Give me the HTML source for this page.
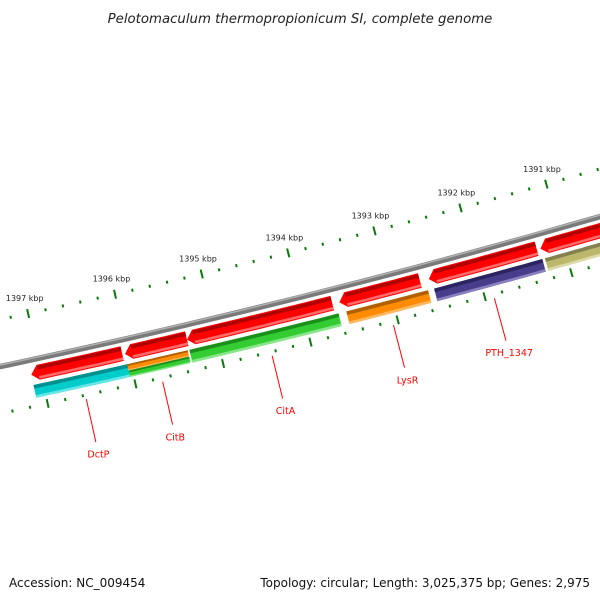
<!DOCTYPE html>
<html><head><meta charset="utf-8"><style>
html,body{margin:0;padding:0;background:#fff;}
svg{display:block;}
text{font-family:"DejaVu Sans","Liberation Sans",sans-serif;}
</style></head><body>
<svg id="map" width="600" height="600" viewBox="0 0 600 600" xmlns="http://www.w3.org/2000/svg">
<rect width="600" height="600" fill="#fff"/>
<text x="300" y="23" text-anchor="middle" font-size="13.3" font-style="italic" fill="#222">Pelotomaculum thermopropionicum SI, complete genome</text>
<g id="layer"></g>
<text x="9" y="587" font-size="12" fill="#111">Accession: NC_009454</text>
<text x="590" y="587" text-anchor="end" font-size="12" fill="#111">Topology: circular; Length: 3,025,375 bp; Genes: 2,975</text>
</svg>
<script>
// data
const kbpLabels = [1397, 1396, 1395, 1394, 1393, 1392, 1391];
const reverseStarts = [1397.11, 1396.04, 1395.33, 1393.58, 1392.55, 1391.26];
const reverseEnds   = [1396.07, 1395.33, 1393.66, 1392.65, 1391.30, 1390.40];
const forwardStarts = [1397.11, 1393.53, 1392.52, 1391.24, 1395.33];
const forwardEnds   = [1396.04, 1392.59, 1391.27, 1390.40, 1393.62];
const forwardColors = ['cyan', 'orange', 'purple', 'khaki', 'green'];
const splitStarts = [1396.04];
const splitEnds   = [1395.35];
const geneNames = ['DctP', 'CitB', 'CitA', 'LysR', 'PTH_1347'];
const geneCenters = [1396.57, 1395.70, 1394.45, 1393.06, 1391.90];

const NS = 'http://www.w3.org/2000/svg';
const layer = document.getElementById('layer');
const cx = -1803, cy = -8122, R0 = 8678;
const thA = Math.atan2(313 - cy, 28 - cx);
const thB = Math.atan2(183 - cy, 546 - cx);
function theta(k){ return thA + (1397 - k) * (thB - thA) / 6; }
function pt(k, off){ const t = theta(k), r = R0 + off; return [cx + r*Math.cos(t), cy + r*Math.sin(t)]; }
function arcPts(k1, k2, off){ const a = []; for (let i=0;i<=12;i++){ a.push(pt(k1 + (k2-k1)*i/12, off)); } return a; }
function band(k1, k2, r1, r2){ return arcPts(k1,k2,r1).concat(arcPts(k2,k1,r2)); }
function poly(points, fill){ const p = document.createElementNS(NS,'polygon'); p.setAttribute('points', points.map(q=>q[0].toFixed(1)+','+q[1].toFixed(1)).join(' ')); p.setAttribute('fill', fill); layer.appendChild(p); return p; }

const palette = {
  red:['#b00000','#ff0000','#ff6a6a'],
  cyan:['#009090','#00cccc','#66e6e6'],
  orange:['#b06000','#ff8c00','#ffb860'],
  green:['#1a901a','#33cc33','#88e688'],
  purple:['#2a2460','#483d8b','#8a80c0'],
  khaki:['#858050','#bdb76b','#dcd9a8']
};
function shadedBar(k1, k2, r1, r2, c, name, arrow){
  const g = document.createElementNS(NS,'g');
  
  
  layer.appendChild(g);
  const col = palette[c];
  const h = r2 - r1;
  const head = arrow ? 0.08 : 0;
  let pts;
  if (arrow){ pts = [pt(k1, (r1+r2)/2 + 1)].concat(arcPts(k1-head, k2, r1 - 1)).concat(arcPts(k2, k1-head, r2 + 1)); }
  else pts = band(k1, k2, r1, r2);
  g.appendChild(poly(pts, col[1]));
  g.appendChild(poly(band(k1-head, k2, r1, r1 + h*0.28), col[0]));
  g.appendChild(poly(band(k1-head, k2, r2 - h*0.2, r2), col[2]));
}

// backbone
(function(){
  const mk = (off, w, color, name) => {
    const p = document.createElementNS(NS,'polyline');
    p.setAttribute('points', arcPts(1398, 1390, off).map(q=>q[0].toFixed(1)+','+q[1].toFixed(1)).join(' '));
    p.setAttribute('fill','none'); p.setAttribute('stroke', color); p.setAttribute('stroke-width', w);
    
    
    layer.appendChild(p);
  };
  mk(0, 5.5, '#7a7a7a', 'backbone');
  mk(-1.5, 1.5, '#b0b0b0', 'backbone-highlight');
})();

// ticks
for (let i = 13900; i <= 13975; i += 2){
  const k = i / 10;
  const major = i % 10 === 0;
  [-46, 46].forEach(off => {
    const len = major ? 4.5 : 1.5;
    const a = pt(k, off - len), b = pt(k, off + len);
    const l = document.createElementNS(NS,'line');
    l.setAttribute('x1', a[0]); l.setAttribute('y1', a[1]); l.setAttribute('x2', b[0]); l.setAttribute('y2', b[1]);
    l.setAttribute('stroke', '#0a7a0a'); l.setAttribute('stroke-width', 2);
    
    
    layer.appendChild(l);
  });
}
kbpLabels.forEach(k => {
  const p = pt(k, -62);
  const t = document.createElementNS(NS,'text');
  t.setAttribute('x', p[0]); t.setAttribute('y', p[1] + 3);
  t.setAttribute('text-anchor', 'middle'); t.setAttribute('font-size', '8'); t.setAttribute('fill', '#222');
  t.textContent = k + ' kbp';
  
  
  layer.appendChild(t);
});

// genes
reverseStarts.forEach((s, i) => shadedBar(s, reverseEnds[i], 7, 20, 'red', 'reverse-gene-' + (i+1), true));
forwardStarts.forEach((s, i) => shadedBar(s, forwardEnds[i], 25, 38, forwardColors[i], forwardColors[i] + '-gene', false));
splitStarts.forEach((s, i) => { shadedBar(s, splitEnds[i], 25, 31.5, 'orange', 'citb-orange-gene', false); shadedBar(s, splitEnds[i], 31.5, 38, 'green', 'citb-green-gene', false); });

// gene labels
geneNames.forEach((n, i) => {
  const a = pt(geneCenters[i], 50), b = pt(geneCenters[i], 94), c = pt(geneCenters[i], 106);
  const l = document.createElementNS(NS,'line');
  l.setAttribute('x1', a[0]); l.setAttribute('y1', a[1]); l.setAttribute('x2', b[0]); l.setAttribute('y2', b[1]);
  l.setAttribute('stroke', '#ff0000'); l.setAttribute('stroke-width', 1);
  
  
  layer.appendChild(l);
  const t = document.createElementNS(NS,'text');
  t.setAttribute('x', c[0]); t.setAttribute('y', c[1] + 4);
  t.setAttribute('text-anchor', 'middle'); t.setAttribute('font-size', '9.5'); t.setAttribute('fill', '#ff0000');
  t.textContent = n;
  
  
  layer.appendChild(t);
});
</script>
</body></html>
